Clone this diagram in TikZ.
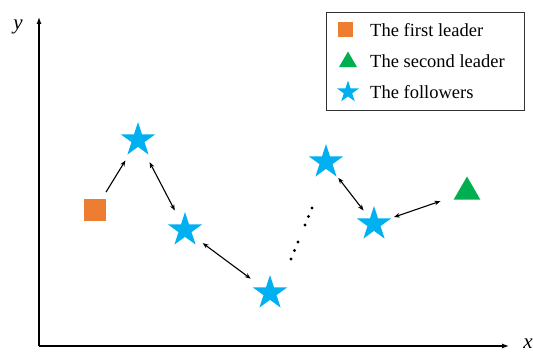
\documentclass[tikz,border=0pt]{standalone}
\usepackage{fontspec}
\setmainfont{Liberation Serif}
\usetikzlibrary{shapes.geometric,arrows.meta}
\definecolor{lorange}{HTML}{ED7D31}
\definecolor{lgreen}{HTML}{00B050}
\definecolor{lcyan}{HTML}{00B0F0}
\begin{document}
\begin{tikzpicture}[x=1pt,y=-1pt,
  sq/.style={rectangle,fill=lorange,inner sep=0pt,minimum size=#1},
  tri/.style={regular polygon,regular polygon sides=3,fill=lgreen,inner sep=0pt,minimum size=#1},
  st/.style={star,star points=5,star point ratio=2.618,fill=lcyan,inner sep=0pt,minimum size=#1},
  link/.style={line width=1.1pt,-{Stealth[length=6pt,width=4.5pt]}},
  blink/.style={line width=1.1pt,{Stealth[length=6pt,width=4.5pt]}-{Stealth[length=6pt,width=4.5pt]}},
  axis/.style={line width=1.2pt,-{Latex[length=7pt,width=5pt]}},
  legtext/.style={anchor=west,inner sep=0pt,font=\fontsize{18.5}{20}\selectfont},
  dotc/.style={fill=black}
]
\useasboundingbox (0,0) rectangle (533,352);
% axes
\coordinate (O) at (39,346);
\coordinate (Ytop) at (39,17);
\coordinate (Xend) at (509,346);
\draw[axis] (O) -- (Ytop);
\draw[axis] (O) -- (Xend);
\node (ylab) at (18,27) {\fontsize{21}{21}\selectfont\itshape y};
\node (xlab) at (528,344) {\fontsize{21}{21}\selectfont\itshape x};
% legend
\draw[line width=0.8pt,draw=black!80] (326,12) rectangle (524,110);
\node[sq=15pt] (lsq) at (345,30) {};
\node[tri=21pt] (ltri) at (348,62) {};
\node[st=23pt] (lst) at (348,92) {};
\node[legtext] (t1) at (370,30) {The first leader};
\node[legtext] (t2) at (370,61) {The second leader};
\node[legtext] (t3) at (370,92) {The followers};
% agents
\node[sq=22pt] (L1) at (95,210) {};
\node[st=36pt] (F1) at (138,140) {};
\node[st=36pt] (F2) at (185,230) {};
\node[st=36pt] (F3) at (270,293) {};
\node[st=36pt] (F4) at (326,162) {};
\node[st=36pt] (F5) at (374,224) {};
\node[tri=31pt] (L2) at (467,192) {};
% links
\draw[link,shorten <=21pt,shorten >=24pt] (L1.center) -- (F1.center);
\draw[blink,shorten <=25pt,shorten >=22pt] (F1.center) -- (F2.center);
\draw[blink,shorten <=22pt,shorten >=24pt] (F2.center) -- (F3.center);
\draw[blink,shorten <=20pt,shorten >=17pt] (F4.center) -- (F5.center);
\draw[blink,shorten <=21pt,shorten >=28pt] (F5.center) -- (L2.center);
% dots
\foreach \p in {(312,208),(308.5,216.5),(305,225),(298,242),(294.5,250.5),(291,259)}
  \fill[dotc] \p circle (1.7pt);
\end{tikzpicture}
\end{document}
